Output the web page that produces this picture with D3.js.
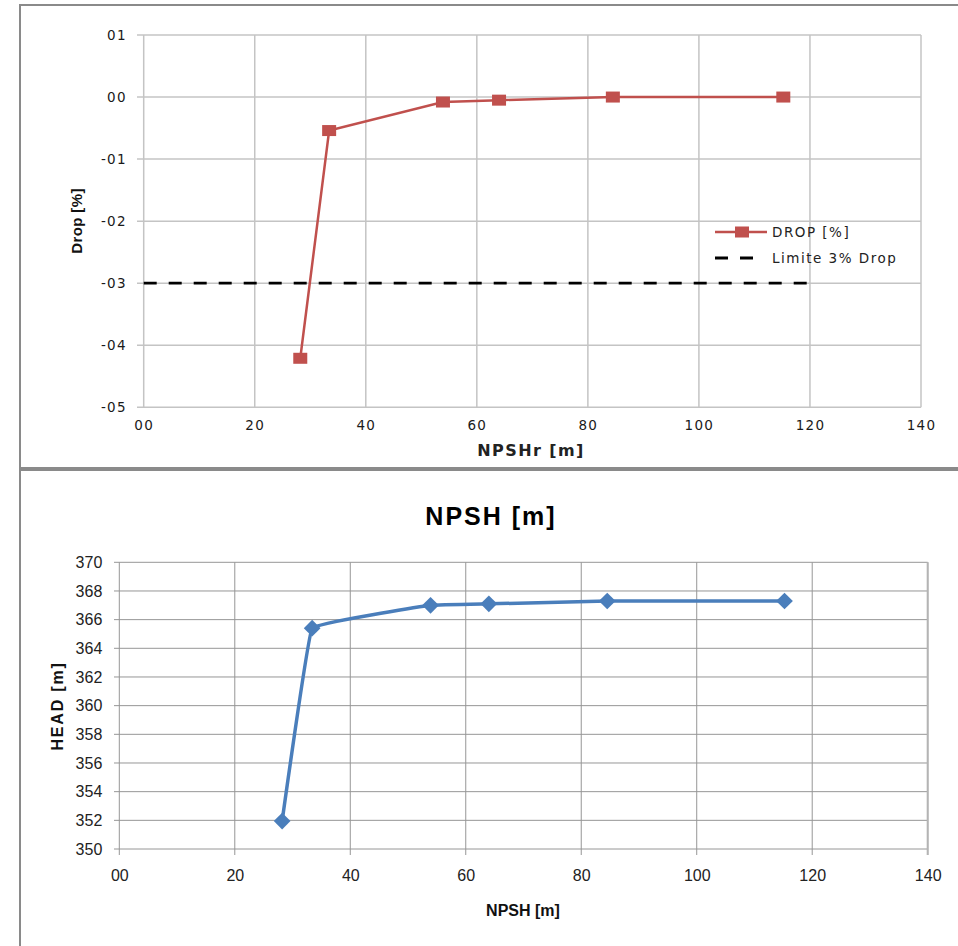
<!DOCTYPE html>
<html>
<head>
<meta charset="utf-8">
<script src="https://cdn.jsdelivr.net/npm/d3@7"></script>
<style>
  body { margin: 0; background: #fff; }
  svg { display: block; }
</style>
</head>
<body>
<script>
// measured points (NPSHr in m)
var npsh = [28.2, 33.4, 53.9, 64.0, 84.5, 115.2];
var drop = [-0.421, -0.054, -0.008, -0.005, 0.0, 0.0];
var head = [351.95, 365.4, 367.0, 367.1, 367.3, 367.3];

// 3% limit line
var limitX = [0, 120];
var limitY = [-0.3, -0.3];

// tick values + labels as printed on the chart
var dropTicks = [0.1, 0, -0.1, -0.2, -0.3, -0.4, -0.5];
var dropTickLabels = ['01', '00', '-01', '-02', '-03', '-04', '-05'];
var xTicks = [0, 20, 40, 60, 80, 100, 120, 140];
var xTickLabels = ['00', '20', '40', '60', '80', '100', '120', '140'];
var headTicks = [350, 352, 354, 356, 358, 360, 362, 364, 366, 368, 370];

var legendLabels = ['DROP [%]', 'Limite 3% Drop'];

var svg = d3.select('body').append('svg').attr('width', 958).attr('height', 946);

// frames of the two chart objects
svg.append('rect').attr('x', 20).attr('y', 5).attr('width', 960).attr('height', 463)
  .attr('fill', '#fff').attr('stroke', '#8a8a8a').attr('stroke-width', 2);
svg.append('rect').attr('x', 20).attr('y', 470).attr('width', 960).attr('height', 500)
  .attr('fill', '#fff').attr('stroke', '#8a8a8a').attr('stroke-width', 2);

// ---------- top chart : drop ----------
var x1 = d3.scaleLinear().domain([0, 140]).range([143.7, 921]);
var y1 = d3.scaleLinear().domain([-0.5, 0.1]).range([407.3, 35]);

var gTop = svg.append('g');
var vfont = 'DejaVu Sans, Verdana, sans-serif';

// grid
gTop.append('g').selectAll('line').data(dropTicks).enter().append('line')
  .attr('x1', 137).attr('x2', x1(140))
  .attr('y1', function (d) { return y1(d); }).attr('y2', function (d) { return y1(d); })
  .attr('stroke', '#c4c4c4').attr('stroke-width', 1.5);
gTop.append('g').selectAll('line').data(xTicks).enter().append('line')
  .attr('x1', function (d) { return x1(d); }).attr('x2', function (d) { return x1(d); })
  .attr('y1', y1(0.1)).attr('y2', y1(-0.5))
  .attr('stroke', '#c4c4c4').attr('stroke-width', 1.5);

var yAxis1 = d3.axisLeft(y1).tickValues(dropTicks).tickSize(0).tickPadding(17)
  .tickFormat(function (d, i) { return dropTickLabels[i]; });
var gy1 = gTop.append('g').attr('transform', 'translate(143.7,0)').call(yAxis1);
gy1.select('.domain').remove();
gy1.selectAll('text').attr('font-family', vfont).attr('font-size', 13.5)
  .attr('letter-spacing', 1.2).attr('fill', '#1a1a1a');

var xAxis1 = d3.axisBottom(x1).tickValues(xTicks).tickSize(0).tickPadding(13)
  .tickFormat(function (d, i) { return xTickLabels[i]; });
var gx1 = gTop.append('g').attr('transform', 'translate(0,407.3)').call(xAxis1);
gx1.select('.domain').remove();
gx1.selectAll('text').attr('font-family', vfont).attr('font-size', 13.5)
  .attr('letter-spacing', 1.3).attr('fill', '#1a1a1a');

gTop.append('text').attr('x', 531).attr('y', 456).attr('text-anchor', 'middle')
  .attr('font-family', vfont).attr('font-size', 16).attr('font-weight', 'bold')
  .attr('letter-spacing', 1.4).attr('fill', '#222').text('NPSHr [m]');
gTop.append('text').attr('transform', 'translate(82,221) rotate(-90)').attr('text-anchor', 'middle')
  .attr('font-family', 'Liberation Sans, Arial, sans-serif').attr('font-size', 15)
  .attr('font-weight', 'bold').attr('letter-spacing', 0.4).attr('fill', '#111').text('Drop [%]');

// limit line
var limitLine = d3.line().x(function (d, i) { return x1(limitX[i]); }).y(function (d) { return y1(d); });
gTop.append('path').attr('d', limitLine(limitY)).attr('fill', 'none')
  .attr('stroke', '#000').attr('stroke-width', 2.8).attr('stroke-dasharray', '13,12');

// drop series
var dropLine = d3.line().x(function (d, i) { return x1(npsh[i]); }).y(function (d) { return y1(d); });
gTop.append('path').attr('d', dropLine(drop)).attr('fill', 'none')
  .attr('stroke', '#c0504d').attr('stroke-width', 2.5);
gTop.append('g').selectAll('rect').data(drop).enter().append('rect')
  .attr('x', function (d, i) { return x1(npsh[i]) - 7; })
  .attr('y', function (d) { return y1(d) - 5.5; })
  .attr('width', 14).attr('height', 11).attr('fill', '#c0504d');

// legend
var leg = gTop.append('g').attr('transform', 'translate(715,232)');
leg.append('line').attr('x1', 0).attr('x2', 52).attr('y1', 0).attr('y2', 0)
  .attr('stroke', '#c0504d').attr('stroke-width', 2.5);
leg.append('rect').attr('x', 20).attr('y', -5.5).attr('width', 14).attr('height', 11).attr('fill', '#c0504d');
leg.append('line').attr('x1', 0).attr('x2', 40).attr('y1', 26).attr('y2', 26)
  .attr('stroke', '#000').attr('stroke-width', 2.8).attr('stroke-dasharray', '13,12');
leg.selectAll('text').data(legendLabels).enter().append('text')
  .attr('x', 57).attr('y', function (d, i) { return i * 26; }).attr('dy', '0.35em')
  .attr('font-family', vfont).attr('font-size', 13.5).attr('letter-spacing', 1.5)
  .attr('fill', '#222').text(function (d) { return d; });

// ---------- bottom chart : head ----------
var x2 = d3.scaleLinear().domain([0, 140]).range([119.3, 927.7]);
var y2 = d3.scaleLinear().domain([350, 370]).range([849, 562.3]);
var gBot = svg.append('g');
var cfont = 'Liberation Sans, Arial, sans-serif';

gBot.append('g').selectAll('line').data(headTicks).enter().append('line')
  .attr('x1', 114).attr('x2', x2(140))
  .attr('y1', function (d) { return y2(d); }).attr('y2', function (d) { return y2(d); })
  .attr('stroke', '#969696').attr('stroke-width', 1);
gBot.append('g').selectAll('line').data(xTicks).enter().append('line')
  .attr('x1', function (d) { return x2(d); }).attr('x2', function (d) { return x2(d); })
  .attr('y1', y2(370)).attr('y2', y2(350) + 6)
  .attr('stroke', '#969696').attr('stroke-width', 1);
gBot.append('line').attr('x1', x2(140)).attr('x2', x2(140)).attr('y1', y2(370)).attr('y2', y2(350) + 6)
  .attr('stroke', '#b4b4b4').attr('stroke-width', 2);

var yAxis2 = d3.axisLeft(y2).tickValues(headTicks).tickSize(0).tickPadding(17);
var gy2 = gBot.append('g').attr('transform', 'translate(119.3,0)').call(yAxis2);
gy2.select('.domain').remove();
gy2.selectAll('text').attr('font-family', cfont).attr('font-size', 16).attr('fill', '#222');

var xAxis2 = d3.axisBottom(x2).tickValues(xTicks).tickSize(0).tickPadding(21)
  .tickFormat(function (d, i) { return xTickLabels[i]; });
var gx2 = gBot.append('g').attr('transform', 'translate(0,849)').call(xAxis2);
gx2.select('.domain').remove();
gx2.selectAll('text').attr('font-family', cfont).attr('font-size', 16).attr('fill', '#222');

gBot.append('text').attr('x', 491).attr('y', 525).attr('text-anchor', 'middle')
  .attr('font-family', cfont).attr('font-size', 25).attr('font-weight', 'bold')
  .attr('letter-spacing', 2).attr('fill', '#000').text('NPSH [m]');
gBot.append('text').attr('x', 523).attr('y', 916).attr('text-anchor', 'middle')
  .attr('font-family', cfont).attr('font-size', 16).attr('font-weight', 'bold')
  .attr('fill', '#111').text('NPSH [m]');
gBot.append('text').attr('transform', 'translate(63,706) rotate(-90)').attr('text-anchor', 'middle')
  .attr('font-family', cfont).attr('font-size', 16).attr('font-weight', 'bold')
  .attr('letter-spacing', 1.8).attr('fill', '#111').text('HEAD [m]');

// Excel-like light smoothing
var headLine = d3.line().curve(d3.curveCardinal.tension(0.85))
  .x(function (d, i) { return x2(npsh[i]); }).y(function (d) { return y2(d); });
gBot.append('path').attr('d', headLine(head)).attr('fill', 'none')
  .attr('stroke', '#4a7ebb').attr('stroke-width', 3.5);
gBot.append('g').selectAll('path').data(head).enter().append('path')
  .attr('d', d3.symbol().type(d3.symbolSquare).size(140))
  .attr('transform', function (d, i) { return 'translate(' + x2(npsh[i]) + ',' + y2(d) + ') rotate(45)'; })
  .attr('fill', '#4a7ebb');
</script>
</body>
</html>
